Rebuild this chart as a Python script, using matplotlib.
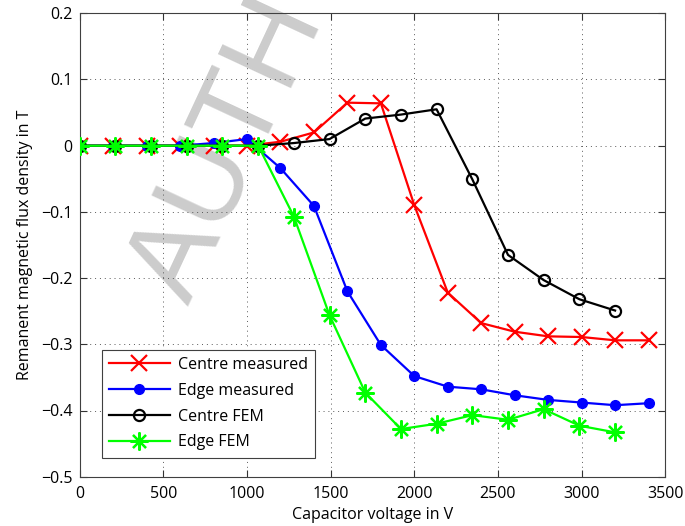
import matplotlib
matplotlib.use("Agg")
import matplotlib.pyplot as plt

plt.rcParams['font.family'] = ['Open Sans', 'DejaVu Sans']
plt.rcParams['axes.unicode_minus'] = True

# measured points (200 V steps)
volt_meas = [0, 200, 400, 600, 800, 1000, 1200, 1400, 1600, 1800,
             2000, 2200, 2400, 2600, 2800, 3000, 3200, 3400]
centre_meas = [0, 0, 0, 0, 0, 0, 0.006, 0.020, 0.065, 0.064,
               -0.090, -0.222, -0.268, -0.281, -0.288, -0.289, -0.294, -0.294]
edge_meas = [0, 0, 0, 0, 0.004, 0.010, -0.034, -0.091, -0.220, -0.301,
             -0.348, -0.364, -0.368, -0.377, -0.384, -0.388, -0.392, -0.389]

# FEM points
volt_fem = [0, 213, 427, 640, 853, 1067, 1280, 1493, 1707, 1920,
            2133, 2347, 2560, 2773, 2987, 3200]
centre_fem = [0, 0, 0, 0, 0, 0, 0.004, 0.010, 0.041, 0.047,
              0.055, -0.051, -0.165, -0.203, -0.232, -0.249]
edge_fem = [0, 0, 0, 0, 0, 0, -0.107, -0.256, -0.373, -0.428,
            -0.420, -0.407, -0.414, -0.398, -0.423, -0.433]

xticks = [0, 500, 1000, 1500, 2000, 2500, 3000, 3500]
yticks = [-0.5, -0.4, -0.3, -0.2, -0.1, 0, 0.1, 0.2]

W, H = 685, 526
fig = plt.figure(figsize=(W / 100, H / 100), dpi=100)
ax = fig.add_axes([79.7 / W, (H - 476.7) / H, (665.3 - 79.7) / W, (476.7 - 13.3) / H])

# watermark behind the data (only "AUTH" is visible in the reference)
ax.text(228 / W, (H - 150) / H, "AUTH", transform=fig.transFigure,
        fontsize=84, color='#cccccc', rotation=65, ha='center', va='center',
        rotation_mode='anchor', family='Liberation Sans', zorder=1.5, clip_on=False)

ax.plot(volt_meas, centre_meas, color='#ff0000', lw=1.6, marker='x',
        ms=11, mew=1.6, label='Centre measured', zorder=3)
ax.plot(volt_meas, edge_meas, color='#0000ff', lw=1.6, marker='o',
        ms=7, label='Edge measured', zorder=3)
ax.plot(volt_fem, centre_fem, color='k', lw=1.6, marker='o', mfc='none',
        ms=8, mew=1.6, label='Centre FEM', zorder=3)
ax.plot(volt_fem, edge_fem, color='#00ff00', lw=1.6, marker=(8, 2, 0),
        ms=13, mew=1.6, label='Edge FEM', zorder=3)

ax.set_xlim(0, 3500)
ax.set_ylim(-0.5, 0.2)
ax.set_xticks(xticks)
ax.set_yticks(yticks)
ax.set_yticklabels(['0' if v == 0 else f'{v:.1f}'.replace('-', '\u2212') for v in yticks])
ax.grid(True, linestyle=(0, (1, 4)), color='0.35', linewidth=0.7)
ax.tick_params(direction='in', top=True, right=True, labelsize=11.5, length=5,
               color='0.2', pad=5)
ax.tick_params(axis='x', pad=7)
for s in ax.spines.values():
    s.set_color('0.25')
    s.set_linewidth(0.8)

ax.set_xlabel('Capacitor voltage in V', fontsize=11.5, labelpad=3)
ax.set_ylabel('Remanent magnetic flux density in T', fontsize=11.5, labelpad=6)

leg = ax.legend(loc='lower left', bbox_to_anchor=(0.024, 0.024), fontsize=11.5,
                fancybox=False, edgecolor='0.25', framealpha=1, handlelength=3.8,
                borderpad=0.45, labelspacing=0.62, handletextpad=0.5)
leg.get_frame().set_linewidth(0.8)

fig.savefig('out.png', dpi=100)
